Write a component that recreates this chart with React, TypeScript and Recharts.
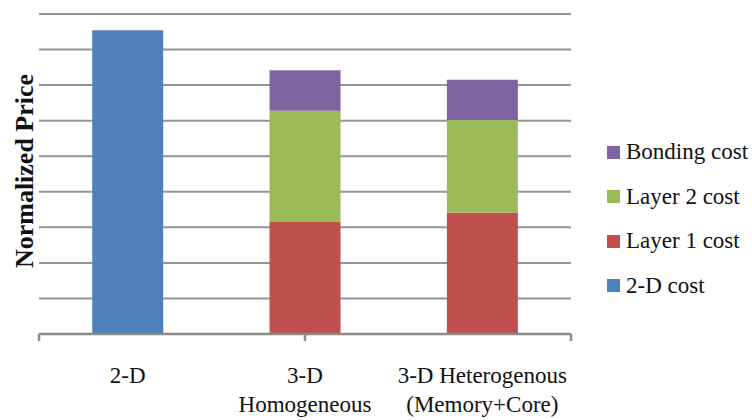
import { Bar, BarChart, CartesianGrid, Legend, XAxis, YAxis } from 'recharts'

const categories = ['2-D', '3-D Homogeneous', '3-D Heterogenous (Memory+Core)']
const categoryLines = [['2-D'], ['3-D', 'Homogeneous'], ['3-D Heterogenous', '(Memory+Core)']]
const twoDCost = [8.54, 0, 0]
const layer1Cost = [0, 3.15, 3.42]
const layer2Cost = [0, 3.13, 2.6]
const bondingCost = [0, 1.14, 1.13]
const yTicks = [0, 1, 2, 3, 4, 5, 6, 7, 8, 9]
const frameTicks = [0, 1, 2, 3]
const legendOrder = ['Bonding cost', 'Layer 2 cost', 'Layer 1 cost', '2-D cost']

const data = categories.map((name, i) => ({
    name,
    twoD: twoDCost[i],
    layer1: layer1Cost[i],
    layer2: layer2Cost[i],
    bonding: bondingCost[i],
}))

const FONT = '"Liberation Serif", "Times New Roman", serif'

function CategoryTick({ x, y, index }: any) {
    const lines = categoryLines[index] ?? []
    return (
        <text x={x} y={y} textAnchor="middle" fontFamily={FONT} fontSize={23} fill="#111">
            {lines.map((line, i) => (
                <tspan key={line} x={x} dy={i === 0 ? 48 : 29}>
                    {line}
                </tspan>
            ))}
        </text>
    )
}

function LegendContent({ payload }: any) {
    const items = [...(payload ?? [])].sort(
        (a: any, b: any) => legendOrder.indexOf(a.value) - legendOrder.indexOf(b.value)
    )
    return (
        <div style={{ paddingLeft: 36, fontFamily: FONT, fontSize: 23, color: '#111' }}>
            {items.map((it: any) => (
                <div key={it.value} style={{ height: 44.5, display: 'flex', alignItems: 'center', whiteSpace: 'nowrap' }}>
                    <span style={{ width: 13, height: 13, background: it.color, marginRight: 6, flex: 'none' }} />
                    <span>{it.value}</span>
                </div>
            ))}
        </div>
    )
}

function YLabel({ viewBox }: any) {
    const cx = viewBox.x + 24
    const cy = viewBox.y + viewBox.height / 2 - 3
    return (
        <text
            x={cx}
            y={cy}
            transform={`rotate(-90 ${cx} ${cy})`}
            textAnchor="middle"
            dominantBaseline="central"
            fontFamily={FONT}
            fontSize={26}
            fontWeight="bold"
            fill="#111"
        >
            Normalized Price
        </text>
    )
}

export default function App() {
    return (
        <div style={{ position: 'absolute', left: 0, top: 0, background: '#fff' }}>
            <BarChart
                width={752}
                height={420}
                data={data}
                margin={{ top: 14, right: 10, bottom: 0, left: 0 }}
                barCategoryGap="30%"
            >
                <CartesianGrid vertical={false} xAxisId="cat" stroke="#959595" strokeWidth={2} />
                {/* boundary ticks, Excel style */}
                <XAxis
                    xAxisId={0}
                    type="number"
                    domain={[0, 3]}
                    ticks={frameTicks}
                    interval={0}
                    height={1}
                    tickSize={7}
                    tickFormatter={() => ''}
                    stroke="#8a8a8a"
                    strokeWidth={2.5}
                />
                <XAxis
                    xAxisId="cat"
                    dataKey="name"
                    axisLine={false}
                    tickLine={false}
                    tickSize={0}
                    tickMargin={0}
                    height={85}
                    interval={0}
                    tick={<CategoryTick />}
                />
                <YAxis
                    domain={[0, 9]}
                    ticks={yTicks}
                    interval={0}
                    width={39}
                    axisLine={false}
                    tickLine={false}
                    tickFormatter={() => ''}
                    label={<YLabel />}
                />
                <Legend
                    layout="vertical"
                    align="right"
                    verticalAlign="middle"
                    width={171}
                    wrapperStyle={{ top: 130 }}
                    content={<LegendContent />}
                />
                <Bar xAxisId="cat" dataKey="twoD" name="2-D cost" stackId="a" fill="#4F81BD" isAnimationActive={false} />
                <Bar xAxisId="cat" dataKey="layer1" name="Layer 1 cost" stackId="a" fill="#C0504D" isAnimationActive={false} />
                <Bar xAxisId="cat" dataKey="layer2" name="Layer 2 cost" stackId="a" fill="#9BBB59" isAnimationActive={false} />
                <Bar xAxisId="cat" dataKey="bonding" name="Bonding cost" stackId="a" fill="#8064A2" isAnimationActive={false} />
            </BarChart>
        </div>
    )
}
